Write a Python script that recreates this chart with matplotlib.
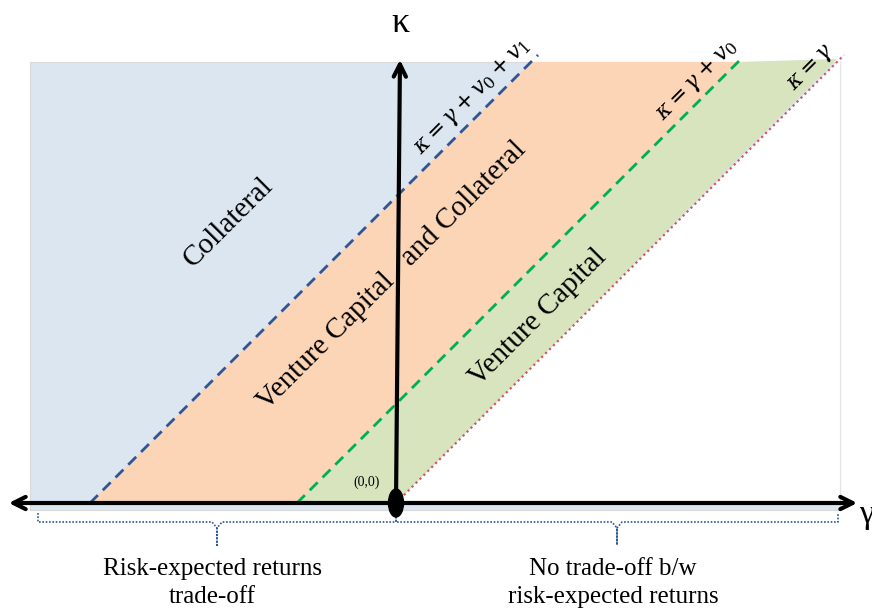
import matplotlib.pyplot as plt
from matplotlib.patches import Polygon, Rectangle, Ellipse
import numpy as np

# model values (1 unit ~ 100 px in the original picture)
v0 = 0.99
v1 = 2.07
k_top = 4.41
g_left = -3.66
g_right = 4.44

region_names = ['Collateral', 'Venture Capital   and Collateral', 'Venture Capital']
line_labels = [r'$\kappa = \gamma + v_0 + v_1$', r'$\kappa = \gamma + v_0$', r'$\kappa = \gamma$']
bottom_labels = ['Risk-expected returns\ntrade-off', 'No trade-off b/w\nrisk-expected returns']

c_blue = '#dce6f1'
c_orange = '#fbd5b5'
c_green = '#d7e4bd'

plt.rcParams['mathtext.fontset'] = 'dejavuserif'
serif = 'Liberation Serif'

fig = plt.figure(figsize=(8.72, 6.10), dpi=100)
ax = fig.add_axes([0, 0, 1, 1])
ax.set_xlim(-3.96, 4.76)
ax.set_ylim(-1.07, 5.03)
ax.axis('off')

b0 = -(v0 + v1)
g0 = -v0

# background (collateral) region
ax.add_patch(Rectangle((g_left, -0.07), g_right - g_left, k_top + 0.07,
                       facecolor=c_blue, edgecolor='#d9d9d9', lw=0.8, zorder=1))
# venture capital and collateral
ax.add_patch(Polygon([(b0, 0), (b0 + k_top, k_top), (g0 + k_top, k_top), (g0, 0)],
                     facecolor=c_orange, edgecolor='none', zorder=2))
# venture capital
ax.add_patch(Polygon([(g0, 0), (g0 + k_top, k_top), (k_top, k_top + 0.03), (0, 0)],
                     facecolor=c_green, edgecolor='none', zorder=2))
# white area right of kappa = gamma
ax.add_patch(Polygon([(0, 0), (k_top, k_top), (g_right, k_top), (g_right, 0)],
                     facecolor='white', edgecolor='none', zorder=2))
ax.plot([g_right, g_right], [0, k_top], color='#e3e3e3', lw=0.8, zorder=2)

# boundary lines
ax.plot([b0, b0 + k_top + 0.07], [0, k_top + 0.07], color='#2f5597', lw=2, ls=(0, (4, 2.5)), zorder=3)
ax.plot([g0, g0 + k_top + 0.04], [0, k_top + 0.04], color='#00b050', lw=2, ls=(0, (4, 2.5)), zorder=3)
ax.plot([0, k_top + 0.07], [0, k_top + 0.07], color='#d05a5a', lw=1.6, ls=(0, (1, 1.5)), zorder=3)

# axes
ax.annotate('', xy=(-3.90, 0), xytext=(4.64, 0),
            arrowprops=dict(arrowstyle='<->', lw=3, color='black', mutation_scale=22), zorder=5)
ax.annotate('', xy=(0.04, 4.46), xytext=(0, 0),
            arrowprops=dict(arrowstyle='->', lw=3, color='black', mutation_scale=22), zorder=5)
ax.add_patch(Ellipse((0, 0), 0.15, 0.28, color='black', zorder=6))

ax.text(0.04, 4.80, '\u03ba', fontsize=26, family=serif, ha='center', va='center', zorder=6)
ax.text(4.70, -0.12, '\u03b3', fontsize=24, family=serif, ha='center', va='center', zorder=6)
ax.text(-0.29, 0.21, '(0,0)', fontsize=10, family=serif, ha='center', va='center', zorder=6)

# region names
ax.text(-1.68, 2.81, region_names[0], fontsize=21, family=serif, rotation=45,
        ha='center', va='center', zorder=4)
ax.text(-0.04, 2.27, region_names[1], fontsize=21, family=serif, rotation=45,
        ha='center', va='center', zorder=4)
ax.text(1.42, 1.85, region_names[2], fontsize=21, family=serif, rotation=45,
        ha='center', va='center', zorder=4)

# line labels
ax.text(0.77, 4.06, line_labels[0], fontsize=16, rotation=45, ha='center', va='center', zorder=4)
ax.text(3.01, 4.23, line_labels[1], fontsize=16, rotation=45, ha='center', va='center', zorder=4)
ax.text(4.16, 4.35, line_labels[2], fontsize=16, rotation=45, ha='center', va='center', zorder=4)

# dotted braces
brace = dict(color='#2f5597', lw=1.2, ls=(0, (1, 1)), zorder=4)
for x0, x1 in [(-3.58, 0.0), (0.0, 4.42)]:
    xm = (x0 + x1) / 2
    ax.plot([x0, x0, xm - 0.05, xm, xm, xm, xm + 0.05, x1, x1],
            [-0.10, -0.19, -0.19, -0.25, -0.42, -0.25, -0.19, -0.19, -0.10], **brace)

ax.text(-1.84, -0.80, bottom_labels[0], fontsize=18, family=serif, ha='center', va='center',
        linespacing=1.35)
ax.text(2.17, -0.80, bottom_labels[1], fontsize=18, family=serif, ha='center', va='center',
        linespacing=1.35)

fig.savefig('out.png', dpi=100)
